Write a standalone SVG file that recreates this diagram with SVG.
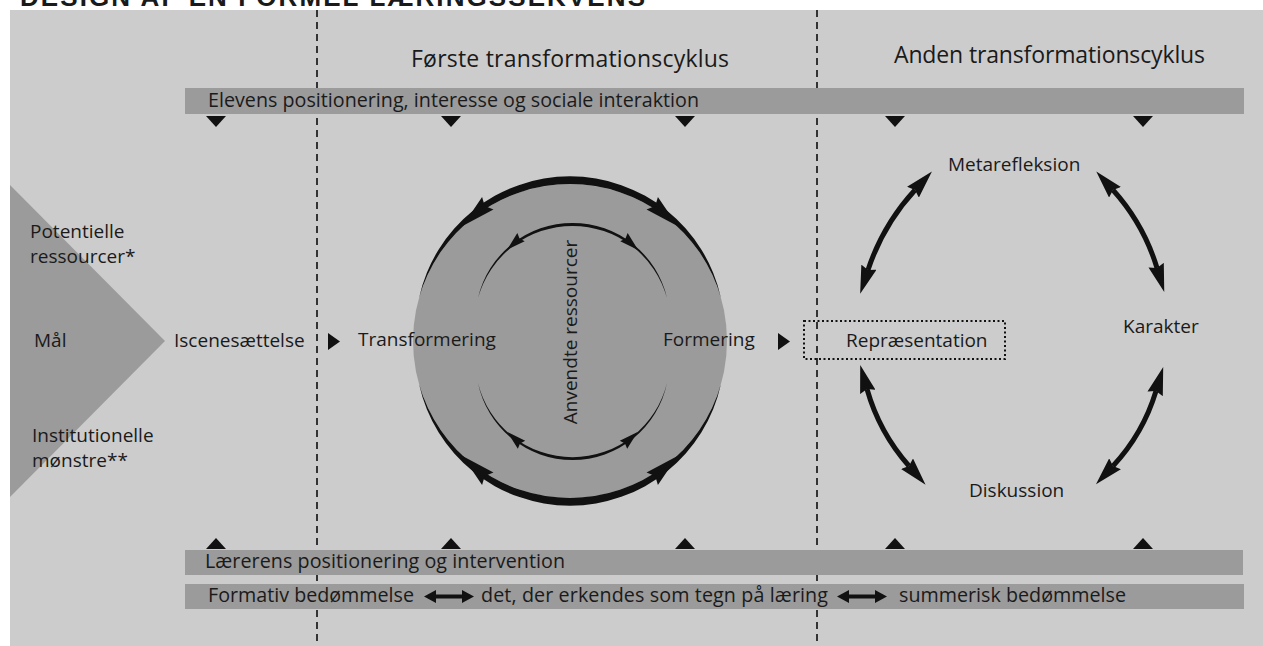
<svg xmlns="http://www.w3.org/2000/svg" width="1263" height="646" viewBox="0 0 1263 646">
  <style>
    .lbl { font-family: "Open Sans", "Liberation Sans", sans-serif; font-size: 19px; fill: #1a1a1a; }
    .ttl { font-family: "Open Sans", "Liberation Sans", sans-serif; font-size: 23px; fill: #1a1a1a; }
    .btx { font-family: "Open Sans", "Liberation Sans", sans-serif; font-size: 19.7px; fill: #1a1a1a; }
    .dark { fill: #9b9b9b; }
    .blk { fill: #111111; }
    .dash { stroke: #333333; stroke-width: 2; stroke-dasharray: 7 5; fill: none; }
    .dbl { stroke: #111111; stroke-width: 5; fill: none; marker-start: url(#head); marker-end: url(#head); }
  </style>
  <defs>
    <marker id="head" viewBox="0 -8 28 16" refX="3" refY="0" markerWidth="28" markerHeight="16" markerUnits="userSpaceOnUse" orient="auto-start-reverse">
      <path d="M0,-8 L28,0 L0,8 L3,0 z" fill="#111111"/>
    </marker>
    <polygon id="bighead" points="0,0 -34,-8.5 -30,0 -34,8.5"/>
    <polygon id="smallhead" points="0,0 -19,-5.5 -17,0 -19,5.5"/>
  </defs>

  <rect x="0" y="0" width="1263" height="646" fill="#ffffff"/>
  <g id="title">
    <text x="20" y="6" textLength="625" style="font-family:'Liberation Sans',sans-serif;font-size:26px;font-weight:bold;fill:#1a1a1a">DESIGN AF EN FORMEL LÆRINGSSEKVENS</text>
  </g>
  <rect id="panel" x="10" y="10" width="1253" height="636" fill="#cccccc"/>

  <g id="dividers">
    <line class="dash" x1="317" y1="10" x2="317" y2="646"/>
    <line class="dash" x1="817" y1="10" x2="817" y2="646"/>
  </g>

  <g id="headings">
    <text class="ttl" x="411" y="67" textLength="318">Første transformationscyklus</text>
    <text class="ttl" x="894" y="63" textLength="311">Anden transformationscyklus</text>
  </g>

  <g id="bar-elev">
    <rect class="dark" x="185" y="88" width="1059" height="26"/>
    <text class="btx" x="208" y="107" textLength="491">Elevens positionering, interesse og sociale interaktion</text>
  </g>
  <g id="bar-laerer">
    <rect class="dark" x="185" y="550" width="1058" height="25"/>
    <text class="btx" x="205" y="568" textLength="360">Lærerens positionering og intervention</text>
  </g>
  <g id="bar-bedoemmelse">
    <rect class="dark" x="185" y="584" width="1059" height="25"/>
    <text class="btx" x="208" y="602" textLength="206">Formativ bedømmelse</text>
    <text class="btx" x="481" y="602" textLength="347">det, der erkendes som tegn på læring</text>
    <text class="btx" x="899" y="602" textLength="227">summerisk bedømmelse</text>
  </g>

  <g id="inputs">
    <polygon class="dark" points="10,185 165,341 10,497"/>
    <text class="lbl" x="30" y="238">Potentielle</text>
    <text class="lbl" x="30" y="263">ressourcer*</text>
    <text class="lbl" x="34" y="347">Mål</text>
    <text class="lbl" x="32" y="442">Institutionelle</text>
    <text class="lbl" x="32" y="467">mønstre**</text>
  </g>

  <g id="iscenesaettelse">
    <text class="lbl" x="174" y="347">Iscenesættelse</text>
  </g>

  <g id="cycle1">
    <circle class="dark" cx="570" cy="341" r="157"/>
    <text class="lbl" x="358" y="346">Transformering</text>
    <text class="lbl" x="663" y="346">Formering</text>
    <text class="lbl" text-anchor="middle" transform="translate(577,332) rotate(-90)">Anvendte ressourcer</text>
  </g>

  <g id="repraesentation">
    <rect x="804" y="321" width="201" height="38" fill="none" stroke="#111111" stroke-width="2" stroke-dasharray="2 2.5"/>
    <text class="lbl" x="846" y="347">Repræsentation</text>
  </g>
  <g id="metarefleksion">
    <text class="lbl" x="948" y="171">Metarefleksion</text>
  </g>
  <g id="karakter">
    <text class="lbl" x="1123" y="333">Karakter</text>
  </g>
  <g id="diskussion">
    <text class="lbl" x="969" y="497">Diskussion</text>
  </g>

  <g id="connectors">
    <!-- flow triangles -->
    <polygon class="blk" points="328,333 340,341.5 328,350"/>
    <polygon class="blk" points="778,333 790,341.5 778,350"/>

    <!-- top bar triangles (down) -->
    <polygon class="blk" points="206,116 226,116 216,127"/>
    <polygon class="blk" points="441,116 461,116 451,127"/>
    <polygon class="blk" points="675,116 695,116 685,127"/>
    <polygon class="blk" points="885,116 905,116 895,127"/>
    <polygon class="blk" points="1133,116 1153,116 1143,127"/>

    <!-- bottom bar triangles (up) -->
    <polygon class="blk" points="206,549 226,549 216,538"/>
    <polygon class="blk" points="441,549 461,549 451,538"/>
    <polygon class="blk" points="675,549 695,549 685,538"/>
    <polygon class="blk" points="885,549 905,549 895,538"/>
    <polygon class="blk" points="1133,549 1153,549 1143,538"/>

    <!-- outer ring arcs -->
    <path class="blk" d="M419.1,297.7 A157,157 0 0 1 720.9,297.7 A154.5,154.5 0 0 0 419.1,297.7 Z"/>
    <path class="blk" d="M419.1,384.3 A157,157 0 0 0 720.9,384.3 A154.5,154.5 0 0 1 419.1,384.3 Z"/>
    <use href="#bighead" class="blk" transform="translate(462.5,226) rotate(138)"/>
    <use href="#bighead" class="blk" transform="translate(677.5,226) rotate(42)"/>
    <use href="#bighead" class="blk" transform="translate(462.5,456) rotate(222)"/>
    <use href="#bighead" class="blk" transform="translate(677.5,456) rotate(318)"/>

    <!-- inner ring arcs -->
    <path class="blk" d="M478,298 A98,98 0 0 1 667,298 A97,97 0 0 0 478,298 Z"/>
    <path class="blk" d="M478,383 A97.3,97.3 0 0 0 667,383 A96.5,96.5 0 0 1 478,383 Z"/>
    <use href="#smallhead" class="blk" transform="translate(506.9,249.9) rotate(138)"/>
    <use href="#smallhead" class="blk" transform="translate(638.1,249.9) rotate(42)"/>
    <use href="#smallhead" class="blk" transform="translate(507.4,432) rotate(222)"/>
    <use href="#smallhead" class="blk" transform="translate(637.6,432) rotate(318)"/>

    <!-- second cycle double arrows -->
    <path class="dbl" d="M868,270 Q882.9,224.9 915,190"/>
    <path class="dbl" d="M1113,190 Q1143.7,224.1 1157,268"/>
    <path class="dbl" d="M867,389 Q879.2,432.3 909,466"/>
    <path class="dbl" d="M1156,391 Q1143.2,433.5 1113,466"/>

    <!-- assessment double arrows -->
    <polygon class="blk" points="424,596.5 436,590 436,594.5 462,594.5 462,590 474,596.5 462,603 462,598.5 436,598.5 436,603"/>
    <polygon class="blk" points="837,596.5 849,590 849,594.5 875,594.5 875,590 887,596.5 875,603 875,598.5 849,598.5 849,603"/>
  </g>
</svg>
